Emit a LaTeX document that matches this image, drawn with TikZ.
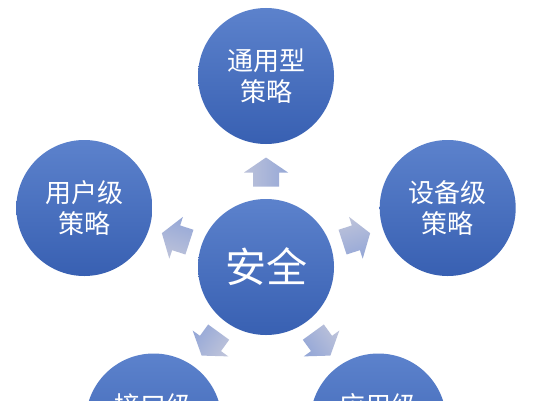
\documentclass[tikz,border=0pt]{standalone}
\usepackage{fontspec}
\setmainfont{Noto Sans CJK SC}
\usetikzlibrary{calc}
\definecolor{ctop}{RGB}{92,130,204}
\definecolor{cbot}{RGB}{56,96,178}
\definecolor{atip}{RGB}{150,168,215}
\definecolor{abase}{RGB}{188,194,218}
\tikzset{
  bubble/.style={circle, minimum size=136pt, inner sep=0pt, top color=ctop, bottom color=cbot,
    text=white, align=center, font=\fontsize{26}{31}\selectfont},
  hub/.style={bubble, font=\fontsize{41}{46}\selectfont},
}
\begin{document}
\begin{tikzpicture}[x=1pt,y=1pt]
\useasboundingbox (0,0) rectangle (534,400);
\clip (0,0) rectangle (534,400);
\fill[white] (0,0) rectangle (534,400);
\node[hub] (c) at (266,133) {安全};
\node[bubble] (t) at (266,324) {通用型\\策略};
\node[bubble] (l) at (84.3,192) {用户级\\策略};
\node[bubble] (r) at (447.7,192) {设备级\\策略};
\node[bubble] (bl) at (153.7,-21.5) {接口级\\策略};
\node[bubble] (br) at (378.3,-21.5) {应用级\\策略};
\foreach \n/\a in {t/90, l/162, r/18, bl/234, br/306}{
  \shade[left color=abase, right color=atip, shading angle=\a]
    ($(c.center)+(\a:80.5pt)+(\a+90:13pt)$) --
    ($(c.center)+(\a:94.5pt)+(\a+90:13pt)$) --
    ($(c.center)+(\a:94.5pt)+(\a+90:22pt)$) --
    ($(c.center)+(\a:109.5pt)$) --
    ($(c.center)+(\a:94.5pt)+(\a-90:22pt)$) --
    ($(c.center)+(\a:94.5pt)+(\a-90:13pt)$) --
    ($(c.center)+(\a:80.5pt)+(\a-90:13pt)$) -- cycle;
}
\end{tikzpicture}
\end{document}
